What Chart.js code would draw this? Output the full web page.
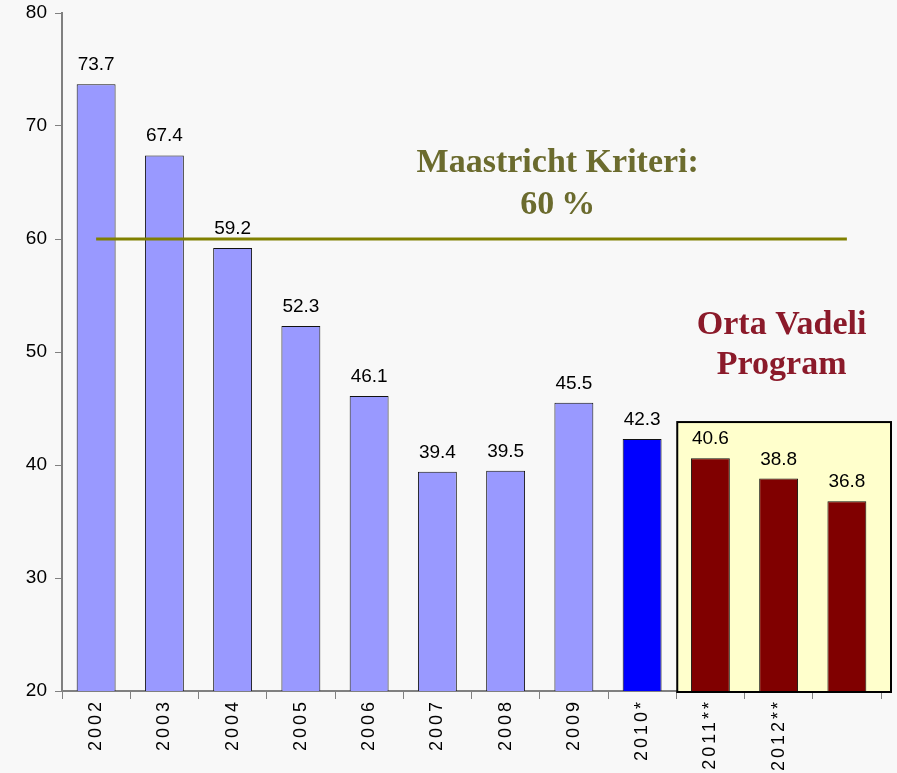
<!DOCTYPE html>
<html>
<head>
<meta charset="utf-8">
<script src="https://cdn.jsdelivr.net/npm/chart.js@4"></script>
<style>
  html, body { margin: 0; padding: 0; background: #f8f8f8; }
  #wrap { width: 897px; height: 773px; }
</style>
</head>
<body>
<div id="wrap"><canvas id="debtChart" width="897" height="773"></canvas></div>
<script>
// Data
const years = ['2002', '2003', '2004', '2005', '2006', '2007', '2008', '2009', '2010*', '2011**', '2012**', ''];
const debtRatio = [73.7, 67.4, 59.2, 52.3, 46.1, 39.4, 39.5, 45.5, 42.3, 40.6, 38.8, 36.8];
const maastricht = [60, 60, 60, 60, 60, 60, 60, 60, 60, 60, 60, 60];
const barColors = ['#9999ff', '#9999ff', '#9999ff', '#9999ff', '#9999ff', '#9999ff', '#9999ff', '#9999ff',
                   '#0000ff', '#800000', '#800000', '#800000'];
const yTicks = [20, 30, 40, 50, 60, 70, 80];
const programStart = 9; // first "Orta Vadeli Program" bar

const sans = '"Liberation Sans", Arial, sans-serif';
const serif = '"Liberation Serif", "Times New Roman", serif';

// yellow program box behind the last three bars
const programBox = {
    id: 'programBox',
    beforeDatasetsDraw(chart) {
        const { ctx, scales: { x, y }, chartArea } = chart;
        const step = x.getPixelForValue(1) - x.getPixelForValue(0);
        const left = x.getPixelForValue(programStart) - step / 2 + 1;
        const right = chartArea.right + 10;
        const top = y.getPixelForValue(43.8);
        const bottom = chartArea.bottom + 1;
        ctx.save();
        ctx.fillStyle = '#ffffcc';
        ctx.fillRect(left, top, right - left, bottom - top);
        ctx.strokeStyle = '#000';
        ctx.lineWidth = 2;
        ctx.strokeRect(left, top, right - left, bottom - top);
        ctx.restore();
    }
};

// value labels, rotated year labels and the two annotations
const labelsPlugin = {
    id: 'valueLabels',
    afterDraw(chart) {
        const { ctx, scales: { x, y }, chartArea } = chart;
        const meta = chart.getDatasetMeta(1);
        ctx.save();
        ctx.fillStyle = '#000';
        ctx.font = '19px ' + sans;
        ctx.textAlign = 'center';
        ctx.textBaseline = 'alphabetic';
        meta.data.forEach((bar, i) => {
            ctx.fillText(debtRatio[i].toFixed(1), bar.x, bar.y - 14);
        });

        // year labels, reading bottom to top
        ctx.font = '18px ' + sans;
        ctx.letterSpacing = '3px';
        ctx.textAlign = 'right';
        ctx.textBaseline = 'middle';
        years.forEach((lab, i) => {
            ctx.save();
            ctx.translate(x.getPixelForValue(i), chartArea.bottom + 8);
            ctx.rotate(-Math.PI / 2);
            ctx.fillText(lab, 0, 0);
            ctx.restore();
        });
        ctx.letterSpacing = '0px';

        ctx.font = 'bold 34px ' + serif;
        ctx.textAlign = 'center';
        ctx.textBaseline = 'middle';
        ctx.fillStyle = '#6b6b2e';
        const mx = (x.getPixelForValue(6) + x.getPixelForValue(7)) / 2 + 18;
        ctx.fillText('Maastricht Kriteri:', mx, y.getPixelForValue(66.7));
        ctx.fillText('60\u2009%', mx, y.getPixelForValue(63.0));

        ctx.fillStyle = '#8b1a2a';
        const ox = x.getPixelForValue(programStart + 1) + 3;
        ctx.fillText('Orta Vadeli', ox, y.getPixelForValue(52.4));
        ctx.fillText('Program', ox, y.getPixelForValue(48.8));
        ctx.restore();
    }
};

const ctx = document.getElementById('debtChart').getContext('2d');

new Chart(ctx, {
    data: {
        labels: years,
        datasets: [
            {
                type: 'line',
                label: 'Maastricht',
                data: maastricht,
                borderColor: '#808000',
                borderWidth: 3,
                pointRadius: 0,
                order: 0
            },
            {
                type: 'bar',
                label: 'Borç / GSYH',
                data: debtRatio,
                backgroundColor: barColors,
                borderColor: '#111',
                borderWidth: 1,
                borderSkipped: 'bottom',
                categoryPercentage: 1,
                barPercentage: 0.57,
                order: 1
            }
        ]
    },
    plugins: [programBox, labelsPlugin],
    options: {
        responsive: false,
        animation: false,
        layout: { padding: { top: 13, right: 16, left: 0, bottom: 0 } },
        plugins: {
            legend: { display: false },
            tooltip: { enabled: false }
        },
        scales: {
            x: {
                offset: true,
                grid: { offset: true, drawOnChartArea: false, color: '#808080', tickLength: 8 },
                border: { color: '#808080', width: 2 },
                ticks: { display: false, autoSkip: false },
                afterFit(axis) { axis.height = 82; }
            },
            y: {
                min: 20,
                max: 80,
                afterBuildTicks(axis) { axis.ticks = yTicks.map(v => ({ value: v })); },
                grid: { drawOnChartArea: false, color: '#808080', tickLength: 7 },
                border: { color: '#808080', width: 2 },
                ticks: {
                    color: '#000',
                    font: { size: 19, family: sans },
                    padding: 8
                },
                afterFit(axis) {
                    axis.width = 62;
                    axis.paddingTop = 0;
                    axis.paddingBottom = 0;
                }
            }
        }
    }
});
</script>
</body>
</html>
